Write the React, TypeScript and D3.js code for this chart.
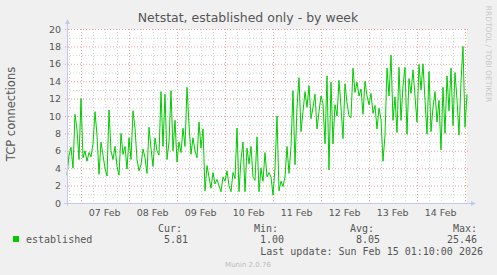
import React from "react";
import * as d3 from "d3";

const seriesName = "established";
const endTime = Date.UTC(2026, 1, 15, 1, 10);
const spanHours = 200;
// hourly values, oldest first
const established: number[] = [
  3.2, 5.5, 6.4, 4.0, 10.2, 8.4, 5.0, 12.0, 5.2, 6.0,
  4.8, 5.8, 5.3, 6.8, 10.5, 7.8, 3.3, 7.0, 5.5, 4.0,
  3.1, 10.7, 6.0, 5.0, 6.5, 4.2, 3.2, 8.0, 5.6, 6.5,
  3.9, 7.5, 5.0, 10.6, 8.6, 5.0, 3.7, 4.4, 6.2, 5.2,
  3.4, 8.7, 6.3, 4.2, 7.5, 6.0, 5.5, 12.8, 6.5, 12.5,
  5.0, 7.0, 12.9, 6.0, 9.5, 4.7, 7.0, 5.8, 8.6, 6.5,
  13.3, 9.0, 5.6, 7.5, 6.0, 5.2, 9.3, 6.3, 8.5, 1.4,
  4.3, 3.0, 1.7, 3.5, 2.2, 2.7, 2.0, 1.3, 3.0, 2.5,
  3.7, 2.0, 1.3, 3.5, 2.8, 8.6, 1.3, 5.0, 7.0, 1.3,
  6.3, 4.5, 6.5, 3.0, 2.6, 7.6, 1.3, 4.0, 2.5, 5.8,
  3.0, 3.5, 3.0, 0.9, 4.0, 10.0, 1.4, 2.5, 1.9, 3.0,
  6.5, 3.4, 6.5, 12.9, 4.4, 11.0, 14.4, 8.2, 10.5, 12.8,
  11.0, 13.5, 9.7, 11.0, 12.5, 8.5, 10.5, 12.3, 11.4, 6.8,
  14.6, 3.8, 13.9, 6.8, 11.3, 10.0, 14.1, 11.0, 7.4, 13.7,
  11.5, 10.0, 9.8, 15.5, 12.7, 13.9, 12.3, 13.1, 10.2, 14.0,
  12.3, 11.3, 12.6, 10.3, 11.2, 8.5, 10.9, 9.6, 4.8, 7.8,
  15.5, 12.3, 17.0, 9.5, 12.2, 8.1, 15.6, 9.5, 13.5, 15.6,
  7.9, 14.3, 12.6, 15.3, 12.3, 9.3, 15.9, 13.0, 16.0, 11.8,
  7.9, 15.1, 8.2, 11.0, 12.8, 9.3, 11.8, 6.1, 13.3, 8.0,
  14.6, 10.6, 15.5, 8.9, 15.0, 11.9, 7.8, 14.0, 18.0, 8.7,
  12.5,
];
const yTicks = [0, 2, 4, 6, 8, 10, 12, 14, 16, 18, 20];
const statHeaders = ["Cur:", "Min:", "Avg:", "Max:"];
const statValues = ["5.81", "1.00", "8.05", "25.46"];
const titleText = "Netstat, established only - by week";
const yLabel = "TCP connections";
const lastUpdate = "Last update: Sun Feb 15 01:10:00 2026";

const W = 497, H = 275;
const L = 67, R = 467, T = 29, B = 203;
const textCol = "#555";
const mono = "'DejaVu Sans Mono', monospace";
const sans = "'DejaVu Sans', sans-serif";

export default function App() {
  const start = endTime - spanHours * 3600e3;
  const x = d3.scaleUtc().domain([new Date(start), new Date(endTime)]).range([L, R]);
  const y = d3.scaleLinear().domain([0, 20]).range([B, T]);
  const data = established.map((v, i) => ({ t: new Date(start + i * 3600e3), v }));
  const line = d3.line<{ t: Date; v: number }>().x(d => x(d.t)).y(d => y(d.v));
  const sixH = d3.utcHour.every(6)!.range(new Date(start), new Date(endTime));
  const days = d3.utcDay.range(new Date(start), new Date(endTime));
  const noons = d3.utcDay.range(new Date(start - 12 * 3600e3), new Date(endTime))
    .map(d => new Date(d.getTime() + 12 * 3600e3))
    .filter(d => d.getTime() > start && d.getTime() < endTime);
  const fmt = d3.utcFormat("%d %b");
  const minorY = d3.range(1, 20, 2);
  const statX = [182, 278, 374, 477];
  const axisCol = "#c4c8f0";
  return (
    <svg width={W} height={H} style={{ position: "absolute", left: 0, top: 0, background: "#f0f0f0" }}>
      <rect x={0} y={0} width={W} height={H} fill="#f0f0f0" />
      <rect x={L} y={T} width={R - L} height={B - T} fill="#fff" />
      {minorY.map(v => (
        <line key={"my" + v} x1={L} x2={R} y1={y(v) + 0.5} y2={y(v) + 0.5} stroke="#d4d4d4" strokeDasharray="1,2" />
      ))}
      {sixH.map((d, i) => (
        <line key={"mx" + i} x1={Math.round(x(d)) + 0.5} x2={Math.round(x(d)) + 0.5} y1={T} y2={B} stroke="#d4d4d4" strokeDasharray="1,2" />
      ))}
      {yTicks.map(v => (
        <line key={"My" + v} x1={L - 2} x2={R + 2} y1={y(v) + 0.5} y2={y(v) + 0.5} stroke="#eaa0a0" strokeDasharray="1,2" />
      ))}
      {days.map((d, i) => (
        <line key={"Mx" + i} x1={Math.round(x(d)) + 0.5} x2={Math.round(x(d)) + 0.5} y1={T} y2={B + 2} stroke="#eaa0a0" strokeDasharray="1,2" />
      ))}
      <path d={line(data)!} fill="none" stroke="#00cc00" strokeWidth={1} />
      <line x1={L + 0.5} x2={L + 0.5} y1={B + 3} y2={T - 6} stroke={axisCol} />
      <path d={`M${L - 2},${T - 5} L${L + 3},${T - 5} L${L + 0.5},${T - 10} Z`} fill={axisCol} />
      <line x1={L - 3} x2={R + 5} y1={B + 0.5} y2={B + 0.5} stroke={axisCol} />
      <path d={`M${R + 4},${B - 2} L${R + 4},${B + 3} L${R + 9},${B + 0.5} Z`} fill={axisCol} />
      {yTicks.map(v => (
        <text key={"yl" + v} x={61} y={y(v) + 3.5} fontSize={9.5} fontFamily={sans} fill={textCol} textAnchor="end">{v}</text>
      ))}
      {noons.map((d, i) => (
        <text key={"xl" + i} x={x(d)} y={216} fontSize={9.5} fontFamily={sans} fill={textCol} textAnchor="middle">{fmt(d)}</text>
      ))}
      <text x={248} y={22} fontSize={12.5} fontFamily={sans} fill={textCol} textAnchor="middle">{titleText}</text>
      <text transform="translate(15,114) rotate(-90)" fontSize={11.5} fontFamily={sans} fill={textCol} textAnchor="middle">{yLabel}</text>
      <text transform="translate(486,54) rotate(90)" fontSize={7.5} fontFamily={sans} fill="#c8c8c8" textAnchor="middle">RRDTOOL / TOBI OETIKER</text>
      {statHeaders.map((s, i) => (
        <text key={"sh" + i} x={statX[i] - 7 * 0} y={232} fontSize={10} fontFamily={mono} fill={textCol} textAnchor="end">{s}</text>
      ))}
      <rect x={13} y={236} width={6} height={6} fill="#00cc00" />
      <text x={26} y={243} fontSize={10} fontFamily={mono} fill={textCol}>{seriesName}</text>
      {statValues.map((s, i) => (
        <text key={"sv" + i} x={[188, 284, 380, 477][i]} y={243} fontSize={10} fontFamily={mono} fill={textCol} textAnchor="end">{s}</text>
      ))}
      <text x={483} y={255} fontSize={10} fontFamily={mono} fill={textCol} textAnchor="end">{lastUpdate}</text>
      <text x={248} y={267} fontSize={7} fontFamily={sans} fill="#bbb" textAnchor="middle">Munin 2.0.76</text>
    </svg>
  );
}
